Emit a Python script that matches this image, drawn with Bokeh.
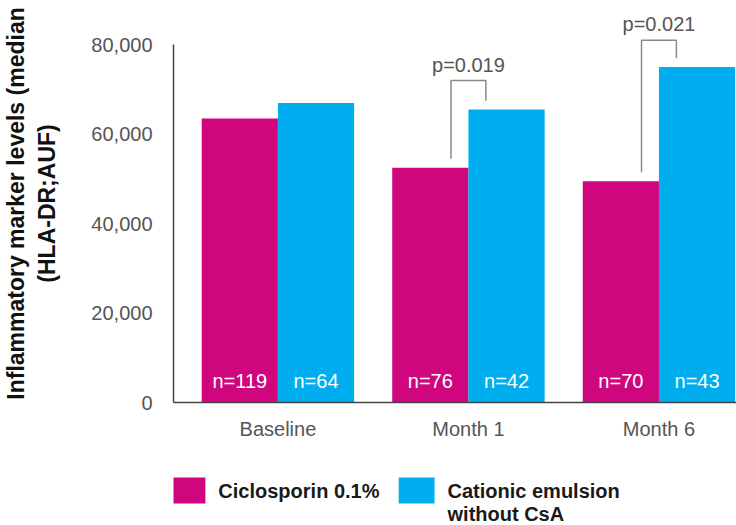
from bokeh.plotting import figure
from bokeh.models import Range1d, FixedTicker
from bokeh.layouts import column
from bokeh.core.properties import value
from bokeh.embed import file_html
from bokeh.resources import INLINE

# Median HLA-DR levels per visit and treatment arm
timepoints = ["Baseline", "Month 1", "Month 6"]
ciclosporin = [63500, 52500, 49500]
vehicle = [67000, 65500, 75000]
n_ciclosporin = [119, 76, 70]
n_vehicle = [64, 42, 43]
series_names = ["Ciclosporin 0.1%", "Cationic emulsion\nwithout CsA"]

y_ticks = [0, 20000, 40000, 60000, 80000]
y_tick_labels = ["0", "20,000", "40,000", "60,000", "80,000"]

# Significance brackets between arms
p_index = [1, 2]
p_labels = ["p=0.019", "p=0.021"]
p_heights = [72000, 81000]

MAGENTA = "#D0067F"
CYAN = "#00AEEF"
FONT = "Liberation Sans"
GREY_TEXT = "#555555"

BAR_W = 0.4
HALF = BAR_W / 2
BRACKET_HALF = 0.0915
LEG_GAP = 2000

FRAME_LEFT = 171
WIDTH = 736

centers = list(range(len(timepoints)))
x_cic = [c - HALF for c in centers]
x_veh = [c + HALF for c in centers]

p = figure(width=WIDTH, height=460, output_backend="svg", toolbar_location=None,
           x_range=Range1d(-0.548, 2.407), y_range=Range1d(0, 89000),
           min_border_left=FRAME_LEFT, min_border_right=0, min_border_top=4,
           min_border_bottom=58)
p.outline_line_color = None
p.grid.visible = False
p.background_fill_color = "white"
p.border_fill_color = "white"

p.vbar(x=x_cic, top=ciclosporin, width=BAR_W, fill_color=MAGENTA, line_color=None)
p.vbar(x=x_veh, top=vehicle, width=BAR_W, fill_color=CYAN, line_color=None)

# sample sizes inside the bars
p.text(x=x_cic + x_veh, y=[0] * 6,
       text=[f"n={n}" for n in n_ciclosporin + n_vehicle],
       text_color="white", text_font=value(FONT), text_font_size="20px",
       text_align="center", text_baseline="middle", y_offset=-22)

# brackets
bxs, bys = [], []
for i, top in zip(p_index, p_heights):
    c = centers[i]
    bxs.append([c - BRACKET_HALF, c - BRACKET_HALF, c + BRACKET_HALF, c + BRACKET_HALF])
    bys.append([ciclosporin[i] + LEG_GAP, top, top, vehicle[i] + LEG_GAP])
p.multi_line(xs=bxs, ys=bys, line_color="#8a8a8a", line_width=1.5)
p.text(x=[centers[i] for i in p_index], y=p_heights, text=p_labels,
       text_color=GREY_TEXT, text_font=value(FONT), text_font_size="20px",
       text_align="center", text_baseline="alphabetic", y_offset=-16)

# axes
p.xaxis.ticker = FixedTicker(ticks=centers)
p.xaxis.major_label_overrides = {c: t for c, t in zip(centers, timepoints)}
p.xaxis.major_tick_line_color = None
p.xaxis.minor_tick_line_color = None
p.xaxis.major_label_standoff = 9
p.xaxis.major_label_text_font = FONT
p.xaxis.major_label_text_font_size = "20px"
p.xaxis.major_label_text_color = GREY_TEXT
p.xaxis.axis_line_color = "#444444"
p.xaxis.axis_line_width = 1.5

p.yaxis.ticker = FixedTicker(ticks=y_ticks)
p.yaxis.major_label_overrides = {t: l for t, l in zip(y_ticks, y_tick_labels)}
p.yaxis.bounds = (0, 80000)
p.yaxis.major_tick_line_color = None
p.yaxis.minor_tick_line_color = None
p.yaxis.major_label_standoff = 15
p.yaxis.major_label_text_font = FONT
p.yaxis.major_label_text_font_size = "20px"
p.yaxis.major_label_text_color = GREY_TEXT
p.yaxis.axis_line_color = "#444444"
p.yaxis.axis_line_width = 1.5
p.yaxis.axis_label = "Inflammatory marker levels (median\n(HLA-DR;AUF)"
p.yaxis.axis_label_text_font = FONT
p.yaxis.axis_label_text_font_style = "bold"
p.yaxis.axis_label_text_font_size = "23px"
p.yaxis.axis_label_text_color = "#111111"
p.yaxis.axis_label_standoff = 28

# legend strip beneath the chart; its frame lines up with the chart frame,
# so the x range is given in page pixels
leg = figure(width=WIDTH, height=65, output_backend="svg", toolbar_location=None,
             x_range=Range1d(FRAME_LEFT, WIDTH), y_range=Range1d(65, 0),
             x_axis_location=None, y_axis_location=None,
             min_border_left=FRAME_LEFT, min_border_right=0, min_border_top=0,
             min_border_bottom=0)
leg.outline_line_color = None
leg.grid.visible = False

swatch_x = [185, 415]
leg.rect(x=swatch_x, y=[30, 30], width=36, height=26,
         fill_color=[MAGENTA, CYAN], line_color=None)
text_x, text_y, text_s = [], [], []
for sx, name in zip(swatch_x, series_names):
    for k, line in enumerate(name.split("\n")):
        text_x.append(sx + 31)
        text_y.append(30 + 23 * k)
        text_s.append(line)
leg.text(x=text_x, y=text_y, text=text_s, text_color="#1a1a1a",
         text_font=value(FONT), text_font_style="bold", text_font_size="20px",
         text_align="left", text_baseline="middle")

layout = column(p, leg)
open("out.html", "w").write(file_html(layout, INLINE))
